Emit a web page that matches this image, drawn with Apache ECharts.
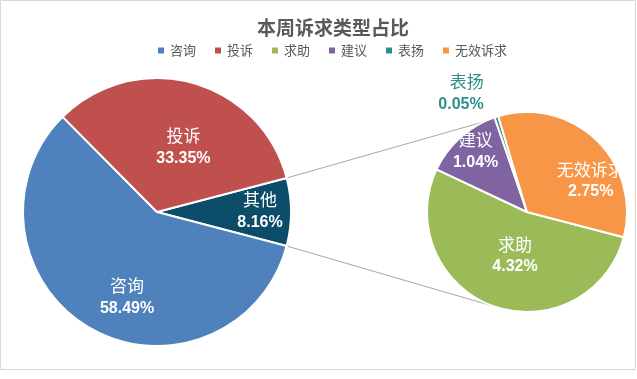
<!DOCTYPE html>
<html><head><meta charset="utf-8">
<script src="https://cdn.jsdelivr.net/npm/echarts@6/dist/echarts.min.js"></script>
<style>html,body{margin:0;padding:0;background:#fff}#c{width:637px;height:379px}</style>
</head><body><div id="c"></div>
<script>
// ---- data ----
const mainNames = ['其他', '咨询', '投诉'];
const mainValues = [8.16, 58.49, 33.35];
const subNames = ['求助', '建议', '表扬', '无效诉求'];
const subValues = [4.32, 1.04, 0.05, 2.75];
const legendNames = ['咨询', '投诉', '求助', '建议', '表扬', '无效诉求'];

// ---- styles / layout ----
const colors = {'咨询':'#4f81bd','投诉':'#c0504d','其他':'#0b4d68','求助':'#9bbb59','建议':'#8064a2','表扬':'#2e8e8a','无效诉求':'#f79646'};
const MAIN = {cx:157, cy:212, r:134};
const SUB = {cx:527, cy:212, r:100};
const SUB_START = 345.4;
const SUB_CONNECT = [115.6, -109.7];
const nudge = {'投诉':[8,3],'咨询':[5,25],'其他':[33,-1],'求助':[6,-6],'建议':[-16,-21],'无效诉求':[27,7]};
const CJK = '"Noto Sans CJK SC", sans-serif';

const mainTotal = mainValues.reduce((a,b)=>a+b,0);
const half = mainValues[0]/mainTotal*180;
const seriesNames = [mainNames, subNames];

function rich(color){
  return {
    n:{fontFamily:CJK,fontSize:17,color:color,lineHeight:23},
    p:{fontFamily:'"Liberation Sans", Arial, sans-serif',fontSize:16,fontWeight:'bold',color:color,lineHeight:23}
  };
}
function items(names, values){
  return names.map((n,i)=>{
    const it = {name:n, value:values[i], itemStyle:{color:colors[n]}};
    if (n === '表扬') {
      it.label = {position:'outside', rich:rich(colors[n])};
      it.labelLine = {show:false, length:25, length2:0};
    }
    return it;
  });
}
const rad = d => d*Math.PI/180;
function pt(c, ang){ return [c.cx + c.r*Math.cos(rad(ang)), c.cy - c.r*Math.sin(rad(ang))]; }
const pU1 = pt(MAIN, half), pL1 = pt(MAIN, -half);
const pU2 = pt(SUB, SUB_CONNECT[0]), pL2 = pt(SUB, SUB_CONNECT[1]);

const labelCommon = {
  show:true, position:'inside', formatter:'{n|{b}}\n{p|{c}%}', rich:rich('#ffffff')
};
const layoutFn = p => {
  const name = seriesNames[p.seriesIndex][p.dataIndex];
  const d = nudge[name];
  if (!d) return {};
  const r = p.labelRect;
  return {x: r.x + r.width/2 + d[0], y: r.y + r.height/2 + d[1], align:'center', verticalAlign:'middle'};
};

const chart = echarts.init(document.getElementById('c'), null, {renderer:'canvas'});
chart.setOption({
  backgroundColor:'#ffffff',
  animation:false,
  title:{text:'本周诉求类型占比', left:252, top:13,
    textStyle:{fontFamily:CJK, fontSize:19, fontWeight:'bold', color:'#595959'}},
  legend:{data:legendNames, top:44, left:156, itemWidth:8, itemHeight:8, itemGap:17,
    icon:'rect', padding:0,
    textStyle:{fontFamily:CJK, fontSize:13, color:'#595959'}},
  graphic:[
    {type:'rect', shape:{x:0.5,y:0.5,width:635,height:369}, style:{fill:'none', stroke:'#d9d9d9', lineWidth:1}, z:-1},
    {type:'line', shape:{x1:pU1[0],y1:pU1[1],x2:pU2[0],y2:pU2[1]}, style:{stroke:'#a6a6a6', lineWidth:1}},
    {type:'line', shape:{x1:pL1[0],y1:pL1[1],x2:pL2[0],y2:pL2[1]}, style:{stroke:'#a6a6a6', lineWidth:1}}
  ],
  series:[
    {type:'pie', center:[MAIN.cx, MAIN.cy], radius:MAIN.r, startAngle:half, clockwise:true,
     avoidLabelOverlap:false, label:labelCommon, labelLine:{show:false}, labelLayout:layoutFn,
     itemStyle:{borderColor:'#ffffff', borderWidth:2}, emphasis:{disabled:true},
     data:items(mainNames, mainValues)},
    {type:'pie', center:[SUB.cx, SUB.cy], radius:SUB.r, startAngle:SUB_START, clockwise:true,
     avoidLabelOverlap:false, label:labelCommon, labelLine:{show:false}, labelLayout:layoutFn,
     itemStyle:{borderColor:'#ffffff', borderWidth:2}, emphasis:{disabled:true},
     data:items(subNames, subValues)}
  ]
});
</script></body></html>
